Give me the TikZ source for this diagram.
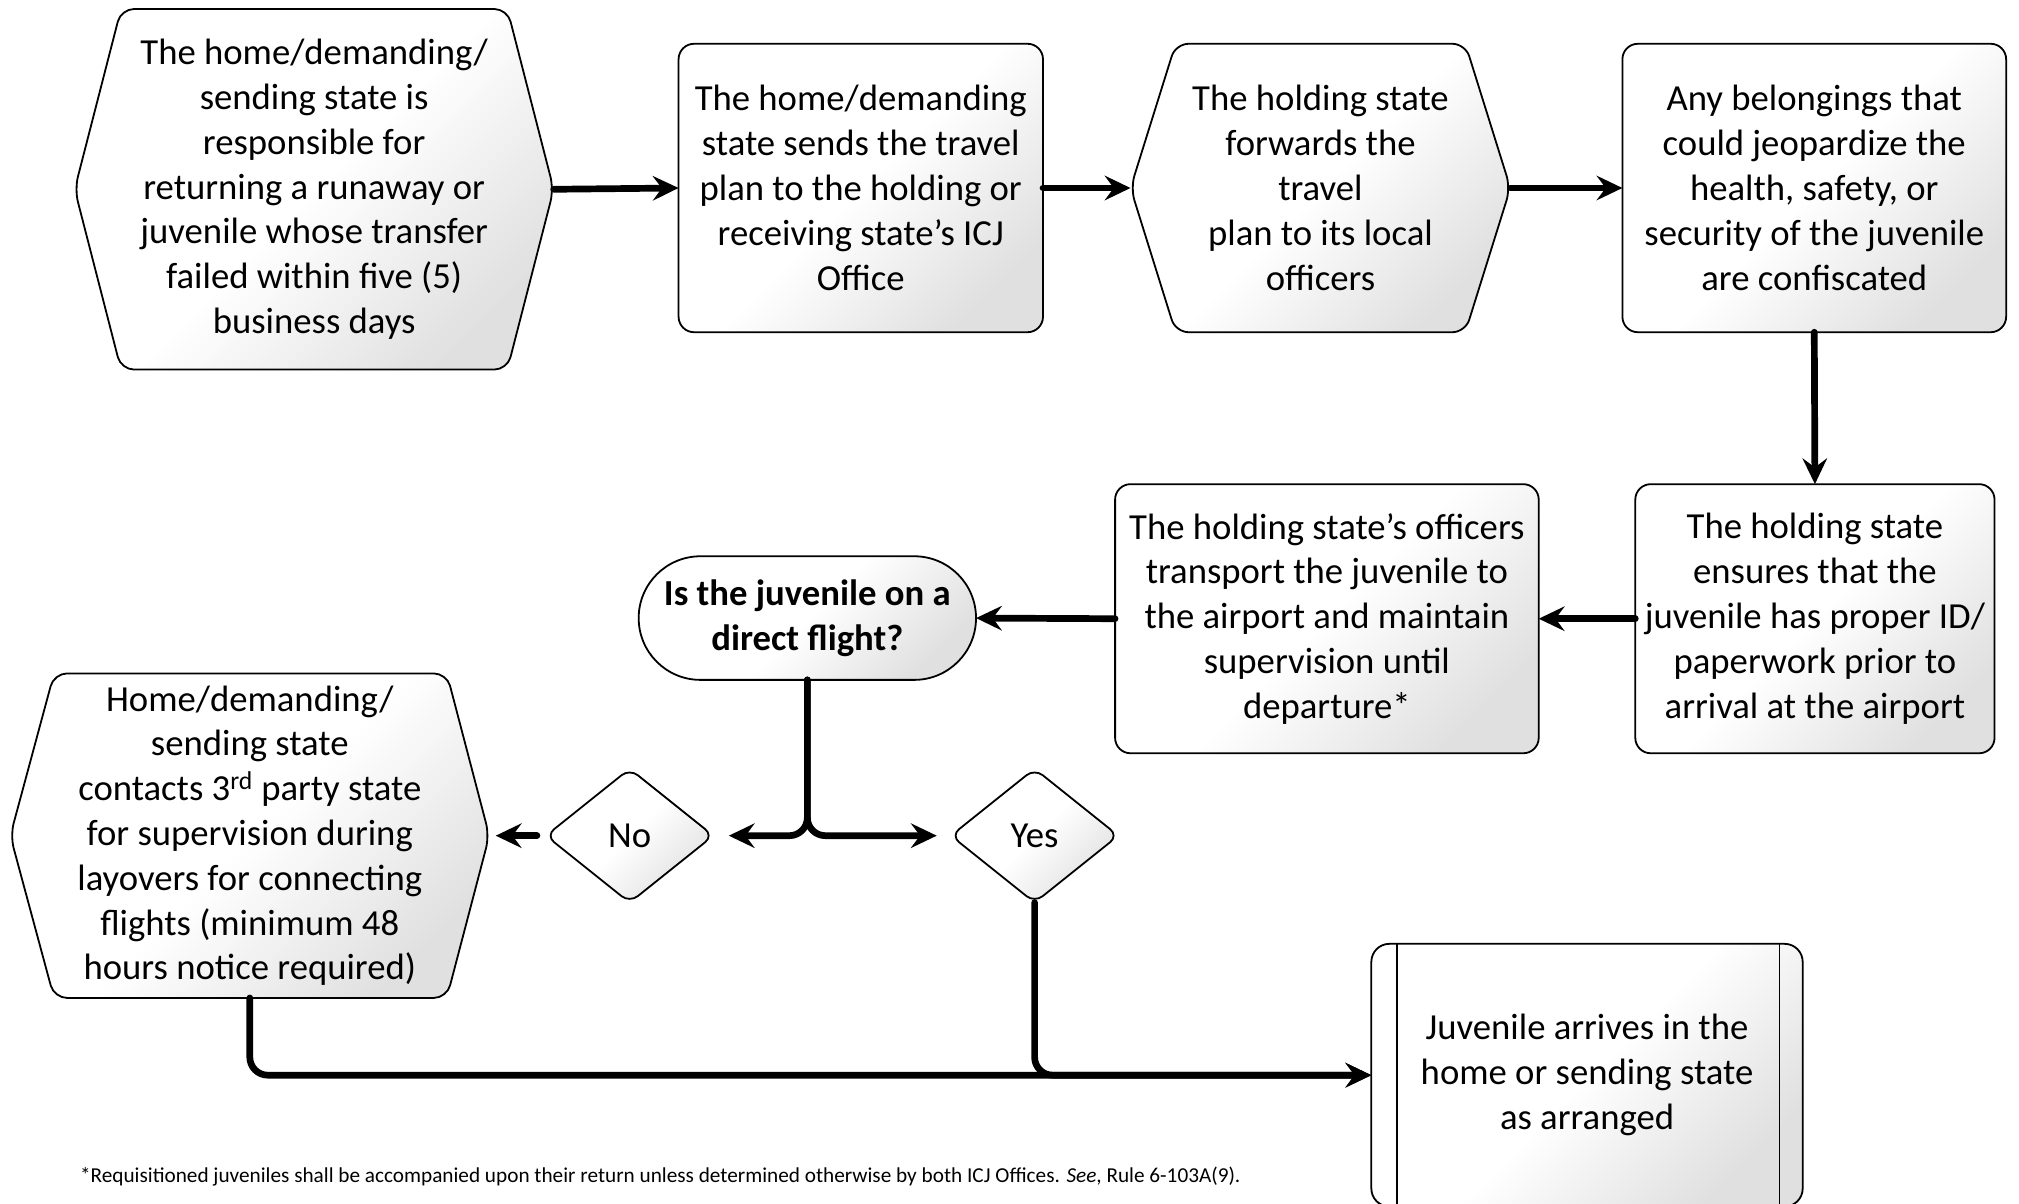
\documentclass[tikz,border=0pt]{standalone}
\usepackage{fontspec}
\setmainfont{Carlito}
\usetikzlibrary{arrows.meta,shapes.geometric,backgrounds,calc}
\begin{document}
\begin{tikzpicture}[x=1pt,y=-1pt,
  base/.style={inner sep=0pt, outer sep=0pt, align=center, font=\fontsize{28.5}{34.8}\selectfont},
  grad/.style={top color=white, bottom color=black!12, middle color=white, shading angle=45},
  boxline/.style={draw=black, line width=1.4pt},
  rbox/.style={base, boxline, grad, rounded corners=12pt},
  hexline/.style={boxline, grad, rounded corners=10pt},
  decision/.style={base, diamond, boxline, grad, rounded corners=8pt, minimum width=130pt, minimum height=104pt},
  conn/.style={line width=5.2pt, line cap=round, rounded corners=14pt, -{Stealth[length=20pt,width=19pt,inset=7pt]}}
]
\useasboundingbox (0,0) rectangle (1568,935);

% Row 1
\node[base, minimum width=372pt, minimum height=280pt] (n1) at (244,147)
  {The home/demanding/\\ sending state is\\ responsible for\\ returning a runaway or\\ juvenile whose transfer\\ failed within five (5)\\ business days};
\node[rbox, minimum width=283pt, minimum height=224pt] (n2) at (668.5,146)
  {The home/demanding\\ state sends the travel\\ plan to the holding or\\ receiving state’s ICJ\\ Office};
\node[base, minimum width=295pt, minimum height=224pt] (n3) at (1025.5,146)
  {The holding state\\ forwards the\\ travel\\ plan to its local\\ officers};
\node[rbox, minimum width=298pt, minimum height=224pt] (n4) at (1409,146)
  {Any belongings that\\ could jeopardize the\\ health, safety, or\\ security of the juvenile\\ are confiscated};

% Row 2
\node[rbox, minimum width=279pt, minimum height=209pt] (n5) at (1409.5,480.5)
  {The holding state\\ ensures that the\\ juvenile has proper ID/\\ paperwork prior to\\ arrival at the airport};
\node[rbox, minimum width=329pt, minimum height=209pt] (n6) at (1030.5,480.5)
  {The holding state’s officers\\ transport the juvenile to\\ the airport and maintain\\ supervision until\\ departure*};
\node[rbox, rounded corners=48pt, minimum width=262pt, minimum height=96pt] (n7) at (627,480)
  {\bfseries Is the juvenile on a\\ \bfseries direct flight?};

% Row 3
\node[decision] (no) at (489,649) {No};
\node[decision] (yes) at (803.5,649) {Yes};
\node[base, minimum width=372pt, minimum height=252pt] (n8) at (194,649)
  {Home/demanding/\\ sending state\\ contacts 3\textsuperscript{rd} party state\\ for supervision during\\ layovers for connecting\\ flights (minimum 48\\ hours notice required)};
\node[rbox, rounded corners=14pt, minimum width=335pt, minimum height=204pt] (n9) at (1232.5,835)
  {Juvenile arrives in the\\ home or sending state\\ as arranged};
\draw[boxline] ([xshift=20pt]n9.north west) -- ([xshift=20pt]n9.south west);
\draw[boxline] ([xshift=-18pt]n9.north east) -- ([xshift=-18pt]n9.south east);

\node[anchor=west, inner sep=0pt, font=\fontsize{16.5}{19}\selectfont] (fn) at (62,914)
  {*Requisitioned juveniles shall be accompanied upon their return unless determined otherwise by both ICJ Offices. \textit{See}, Rule 6-103A(9).};

% hexagon outlines behind the text
\begin{pgfonlayer}{background}
\path[hexline] (n1.north) -- ([xshift=-36pt]n1.north east) -- (n1.east) -- ([xshift=-36pt]n1.south east)
  -- ([xshift=36pt]n1.south west) -- (n1.west) -- ([xshift=36pt]n1.north west) -- cycle;
\path[hexline] (n3.north) -- ([xshift=-35pt]n3.north east) -- (n3.east) -- ([xshift=-35pt]n3.south east)
  -- ([xshift=35pt]n3.south west) -- (n3.west) -- ([xshift=35pt]n3.north west) -- cycle;
\path[hexline] (n8.north) -- ([xshift=-33pt]n8.north east) -- (n8.east) -- ([xshift=-33pt]n8.south east)
  -- ([xshift=34pt]n8.south west) -- (n8.west) -- ([xshift=34pt]n8.north west) -- cycle;
\end{pgfonlayer}

% Connectors
\draw[conn] (n1.east) -- (n2.west);
\draw[conn] (n2.east) -- (n3.west);
\draw[conn] (n3.east) -- (n4.west);
\draw[conn] (n4.south) -- (n5.north);
\draw[conn] (n5.west) -- (n6.east);
\draw[conn] (n6.west) -- (n7.east);
\draw[conn, shorten >=12pt] (n7.south) |- (no.east);
\draw[conn, shorten >=11pt] (n7.south) |- (yes.west);
\draw[conn, shorten <=7pt, shorten >=5pt] (no.west) -- (n8.east);
\draw[conn] (n8.south) |- (n9.west);
\draw[conn] (yes.south) |- (n9.west);
\end{tikzpicture}
\end{document}
